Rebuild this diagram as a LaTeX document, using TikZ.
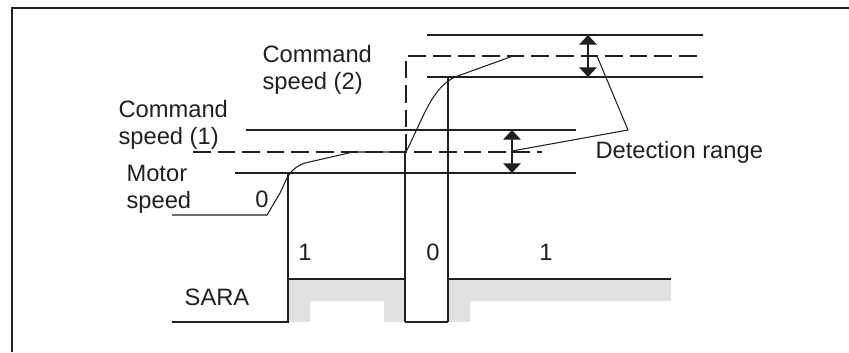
\documentclass[tikz,border=0pt]{standalone}
\usepackage{fontspec}
\setmainfont{Liberation Sans}
\usetikzlibrary{arrows.meta}
\definecolor{saragray}{RGB}{224,225,227}
\definecolor{ink}{RGB}{35,31,32}
\begin{document}
\begin{tikzpicture}[x=0.02cm, y=-0.02cm, line width=0.6pt, draw=ink,
  lbl/.style={font=\fontsize{13.5}{15}\selectfont, text=ink, inner sep=0pt, align=left},
  cmddash/.style={dash pattern=on 10pt off 4pt},
  detarrow/.style={{Triangle[width=10pt,length=5.5pt]}-{Triangle[width=10pt,length=5.5pt]}, fill=ink}]
\useasboundingbox (0,0) rectangle (849,352);
\draw[line width=0.8pt] (849,8) -- (12,8) -- (12,352);
% labels
\node[lbl, anchor=north west] (cmdtwo) at (262,45) {Command\\speed (2)};
\node[lbl, anchor=north west] (cmdone) at (118,100) {Command\\speed (1)};
\node[lbl, anchor=north west] (motor) at (126,165) {Motor\\speed};
\node[lbl, anchor=base west] (detect) at (595,158) {Detection range};
% speed levels
\draw (427,35) -- (703,35);
\draw[cmddash] (406,152) -- (406,56) -- (703,56);
\draw (427,77) -- (703,77);
\draw (246,130) -- (576,130);
\draw[cmddash] (193,152) -- (542,152);
\draw (235,173) -- (576,173);
% detection ranges
\draw[detarrow] (588,35) -- (588,77);
\draw[detarrow] (512,130) -- (512,173);
\draw (597,56) -- (628,130) -- (512,151);
% motor speed
\draw (172,215) -- (267,215) -- (280,193) .. controls (286,181) and (289,168) .. (305,163)
  -- (353,152) -- (406,152) .. controls (424,116) and (432,88) .. (455,77) -- (513,56);
% SARA
\fill[saragray] (288,279) -- (405,279) -- (405,322) -- (384,322) -- (384,301) -- (310,301)
  -- (310,322) -- (288,322) -- cycle;
\fill[saragray] (448,279) -- (671,279) -- (671,301) -- (470,301) -- (470,322) -- (448,322) -- cycle;
\draw (172,322) -- (288,322) -- (288,173);
\draw (288,279) -- (405,279);
\draw (405,152) -- (405,322);
\draw (448,77) -- (448,322);
\draw[line width=1pt] (405,322) -- (448,322);
\draw (448,279) -- (671,279);
\node[lbl] (zeroa) at (262,199) {0};
\node[lbl] (onea) at (305,252) {1};
\node[lbl] (zerob) at (433,252) {0};
\node[lbl] (oneb) at (546,252) {1};
\node[lbl] (sara) at (217,297) {SARA};
\end{tikzpicture}
\end{document}
